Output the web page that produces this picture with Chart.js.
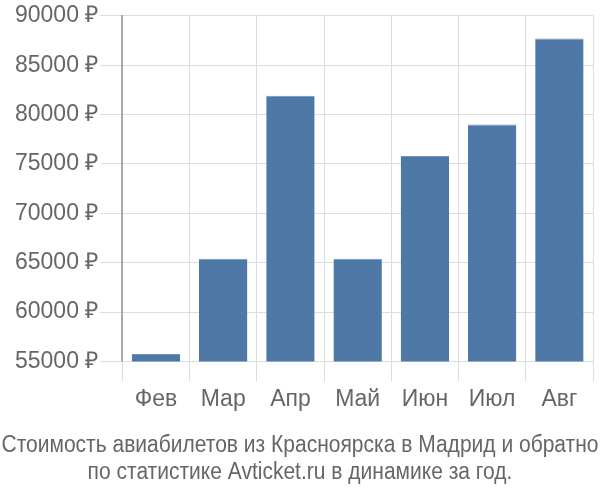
<!DOCTYPE html>
<html lang="ru">
<head>
    <meta charset="UTF-8">
    <title>Стоимость авиабилетов</title>
    <script src="https://cdn.jsdelivr.net/npm/chart.js"></script>
    <style>
        html, body { margin: 0; padding: 0; background: #fff; }
        #wrap { width: 600px; height: 500px; }
    </style>
</head>
<body>
    <div id="wrap"><canvas id="chart"></canvas></div>

    <script>
        // months and average price (rub)
        const months = ['Фев', 'Мар', 'Апр', 'Май', 'Июн', 'Июл', 'Авг'];
        const prices = [55750, 65400, 81900, 65400, 75800, 79000, 87700];
        const titleLines = [
            'Стоимость авиабилетов из Красноярска в Мадрид и обратно',
            'по статистике Avticket.ru в динамике за год.'
        ];

        // caption under the chart, drawn a bit condensed like the original
        const captionPlugin = {
            id: 'caption',
            afterDraw(chart) {
                const ctx = chart.ctx;
                ctx.save();
                ctx.font = '23px "Liberation Sans", Arial, sans-serif';
                ctx.fillStyle = '#666';
                ctx.textAlign = 'center';
                ctx.textBaseline = 'middle';
                const w = ctx.measureText(titleLines[0]).width;
                const k = Math.min(1, 597 / w);
                ctx.translate(chart.width / 2, 0);
                ctx.scale(k, 1);
                ctx.fillText(titleLines[0], 0, 446);
                ctx.fillText(titleLines[1], 0, 473);
                ctx.restore();
            }
        };

        new Chart(document.getElementById('chart'), {
            type: 'bar',
            data: {
                labels: months,
                datasets: [{
                    data: prices,
                    backgroundColor: '#4e79a7',
                    borderColor: '#6f93bb',
                    borderWidth: { top: 1, left: 0, right: 0, bottom: 0 },
                    barPercentage: 0.72,
                    categoryPercentage: 1
                }]
            },
            options: {
                responsive: true,
                maintainAspectRatio: false,
                animation: false,
                layout: { padding: { top: 3, right: 7, left: 13, bottom: 83 } },
                scales: {
                    y: {
                        min: 55000,
                        max: 90000,
                        ticks: {
                            stepSize: 5000,
                            color: '#666',
                            font: { family: 'Liberation Sans', size: 23 },
                            padding: 2,
                            callback: v => v + ' ₽'
                        },
                        grid: { color: '#ddd', tickLength: 22 },
                        border: { color: '#aaa', width: 2 }
                    },
                    x: {
                        ticks: {
                            color: '#666',
                            font: { family: 'Liberation Sans', size: 23 },
                            padding: 4
                        },
                        grid: { color: '#ddd', tickLength: 20, offset: true },
                        border: { color: '#ddd' }
                    }
                },
                plugins: {
                    legend: { display: false },
                    tooltip: { enabled: false },
                    title: { display: false }
                }
            },
            plugins: [captionPlugin]
        });
    </script>
</body>
</html>
